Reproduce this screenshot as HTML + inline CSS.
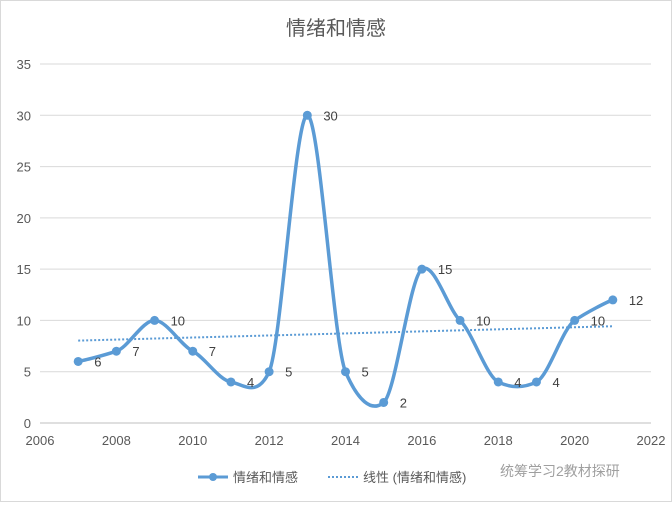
<!DOCTYPE html>
<html><head><meta charset="utf-8"><style>
body{margin:0;background:#fff;}
svg text{font-family:"Liberation Sans","Noto Sans CJK SC",sans-serif;}
</style></head><body>
<svg width="672" height="502">
<rect x="0.5" y="0.5" width="671" height="501" fill="#fff" stroke="#d9d9d9"/>
<text x="336" y="35" text-anchor="middle" font-size="20" fill="#595959">情绪和情感</text>
<g id="grid"></g><g id="axes"></g><g id="trend"></g><g id="series"></g>
<g>
<line x1="198" y1="477" x2="228" y2="477" stroke="#5b9bd5" stroke-width="3"/>
<circle cx="213" cy="477" r="4" fill="#5b9bd5"/>
<text x="233" y="482" font-size="13" fill="#595959">情绪和情感</text>
<line x1="328" y1="477" x2="358" y2="477" stroke="#5b9bd5" stroke-width="2" stroke-dasharray="2,2"/>
<text x="363" y="482" font-size="13" fill="#595959">线性 (情绪和情感)</text>
</g>
<text x="500" y="476" font-size="14" fill="#888" opacity="0.8">统筹学习2教材探研</text>
</svg>
<script>
const years=[2007,2008,2009,2010,2011,2012,2013,2014,2015,2016,2017,2018,2019,2020,2021];
const values=[6,7,10,7,4,5,30,5,2,15,10,4,4,10,12];
const xTicks=[2006,2008,2010,2012,2014,2016,2018,2020,2022];
const yTicks=[0,5,10,15,20,25,30,35];
const NS="http://www.w3.org/2000/svg";
const X=v=>40+(v-2006)*(611/16);
const Y=v=>423-v*(359/35);
function mk(tag,attrs,parent,text){const e=document.createElementNS(NS,tag);for(const k in attrs)e.setAttribute(k,attrs[k]);if(text!==undefined)e.textContent=text;document.getElementById(parent).appendChild(e);return e;}
yTicks.forEach(t=>{
 const l=mk('line',{x1:40,x2:651,y1:Y(t),y2:Y(t),stroke:t===0?'#bfbfbf':'#d9d9d9'},'grid');
 
 
 const tx=mk('text',{x:31,y:Y(t)+5,'text-anchor':'end','font-size':13,fill:'#595959'},'axes',t);
 
 
});
xTicks.forEach(t=>{
 const tx=mk('text',{x:X(t),y:445,'text-anchor':'middle','font-size':13,fill:'#595959'},'axes',t);
 
 
});
const n=years.length,mx=years.reduce((a,b)=>a+b)/n,my=values.reduce((a,b)=>a+b)/n;
let sxy=0,sxx=0;years.forEach((x,i)=>{sxy+=(x-mx)*(values[i]-my);sxx+=(x-mx)**2;});
const sl=sxy/sxx,ic=my-sl*mx;
const tl=mk('line',{x1:X(years[0]),y1:Y(ic+sl*years[0]),x2:X(years[n-1]),y2:Y(ic+sl*years[n-1]),stroke:'#5b9bd5','stroke-width':2,'stroke-dasharray':'2,2'},'trend');


const P=years.map((y,i)=>[X(y),Y(values[i])]);
let d=`M${P[0][0]},${P[0][1]}`;const tt=0.1;
for(let i=0;i<n-1;i++){const p0=P[Math.max(i-1,0)],p1=P[i],p2=P[i+1],p3=P[Math.min(i+2,n-1)];
 const ax=(p2[0]-p0[0])*tt*1.6,ay=(p2[1]-p0[1])*tt,bx=(p3[0]-p1[0])*tt*1.6,by=(p3[1]-p1[1])*tt;
 d+=` C${p1[0]+ax},${p1[1]+ay} ${p2[0]-bx},${p2[1]-by} ${p2[0]},${p2[1]}`;}
const pa=mk('path',{d:d,fill:'none',stroke:'#5b9bd5','stroke-width':3.5},'series');


P.forEach((p,i)=>{
 const c=mk('circle',{cx:p[0],cy:p[1],r:4.5,fill:'#5b9bd5'},'series');
 
 
 const t=mk('text',{x:p[0]+16,y:p[1]+5,'font-size':13,fill:'#404040'},'series',values[i]);
 
 
});
</script>
</body></html>
